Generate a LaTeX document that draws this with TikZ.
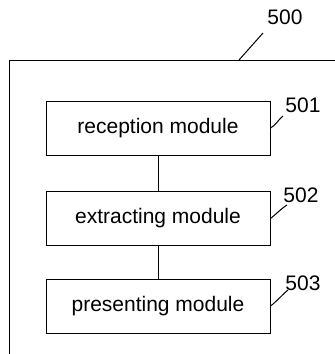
\documentclass[tikz,border=0pt]{standalone}
\usepackage{fontspec}
\setmainfont{Liberation Sans}
\begin{document}
\begin{tikzpicture}[x=1pt,y=-1pt,
  line width=1pt,
  modbox/.style={draw=black, minimum width=224pt, minimum height=54pt, inner sep=0pt,
    font=\fontsize{21}{25}\selectfont},
  lbl/.style={inner sep=0pt, font=\fontsize{21}{25}\selectfont},
  leader/.style={draw=black, line width=1pt}]
\useasboundingbox (0,0) rectangle (335,354);
\clip (0,0) rectangle (335,354);
\fill[white] (0,0) rectangle (335,354);
% outer system box (extends beyond the picture)
\node[draw=black, minimum width=360pt, minimum height=320pt, inner sep=0pt, anchor=north west] (sys) at (9,60) {};
\coordinate (s500) at (239,60);
\node[lbl] (l500) at (285,17) {500};
\coordinate (e500) at (263,33);
\draw[leader] (s500) -- (e500);
% modules
\node[modbox] (m1) at (158,128) {reception module};
\node[modbox] (m2) at (158,218.5) {extracting module};
\node[modbox] (m3) at (158,306) {presenting module};
\draw (m1.south) -- (m2.north);
\draw (m2.south) -- (m3.north);
% labels
\node[lbl] (l501) at (303,105.5) {501};
\node[lbl] (l502) at (301,195) {502};
\node[lbl] (l503) at (303,283.5) {503};
\coordinate (e501) at (283,116);
\coordinate (e502) at (287,205);
\coordinate (e503) at (288,290);
\draw[leader] (m1.east) .. controls (275,126) and (279,119) .. (e501);
\draw[leader] (m2.east) .. controls (275,215) and (282,208) .. (e502);
\draw[leader] (m3.east) .. controls (276,302) and (282,295) .. (e503);
\end{tikzpicture}
\end{document}
